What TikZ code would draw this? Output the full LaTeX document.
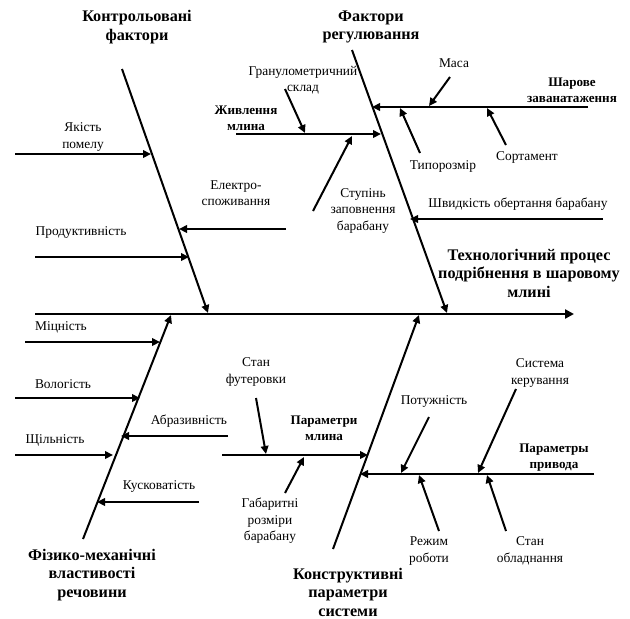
\documentclass[tikz,border=0pt]{standalone}
\usepackage{fontspec}
\setmainfont{Liberation Serif}
\usetikzlibrary{arrows.meta}

\begin{document}
\begin{tikzpicture}[x=1pt,y=-1pt,
  arr/.style={line width=2pt,-{Triangle[length=8pt,width=7.5pt]}},
  spine/.style={line width=2.8pt,-{Triangle[length=9pt,width=9pt]}},
  lbl/.style={align=center,inner sep=0pt,font=\fontsize{13.4}{16.5}\selectfont},
  sub/.style={align=center,inner sep=0pt,font=\fontsize{13.1}{16}\selectfont\bfseries},
  head/.style={align=center,inner sep=0pt,font=\fontsize{16.2}{18.5}\selectfont\bfseries}]
  \useasboundingbox (0,0) rectangle (630,619);

  \node[head] (kontr) at (137,27) {Контрольовані\\фактори};
  \node[head] (regul) at (371,27) {Фактори\\регулювання};
  \node[head] (proc) at (529,273) {Технологічний процес\\подрібнення в шаровому\\млині};
  \node[head] (fizmeh) at (92,575) {Фізико-механічні\\властивості\\речовини};
  \node[head] (konstr) at (348,592) {Конструктивні\\параметри\\системи};

  \node[sub] (zhyvl) at (246,118) {Живлення\\млина};
  \node[sub] (sharove) at (572,90) {Шарове\\заванатаження};
  \node[sub] (parmlyn) at (324,428) {Параметри\\млина};
  \node[sub] (parpryv) at (554,458) {Параметры\\привода};

  \node[lbl] (yakist) at (83,137) {Якість\\помелу};
  \node[lbl] (elektro) at (236,193) {Електро-\\споживання};
  \node[lbl] (produkt) at (81,233) {Продуктивність};
  \node[lbl] (granul) at (303,80) {Гранулометричний\\склад};
  \node[lbl] (stupin) at (363,211) {Ступінь\\заповнення\\барабану};
  \node[lbl] (masa) at (454,63) {Маса};
  \node[lbl] (typoroz) at (443,166) {Типорозмір};
  \node[lbl] (sortam) at (527,157) {Сортамент};
  \node[lbl] (shvyd) at (518,204) {Швидкість обертання барабану};
  \node[lbl] (mitsn) at (61,327) {Міцність};
  \node[lbl] (volog) at (63,384) {Вологість};
  \node[lbl] (abraz) at (189,421) {Абразивність};
  \node[lbl] (shchil) at (55,440) {Щільність};
  \node[lbl] (kuskov) at (159,487) {Кусковатість};
  \node[lbl] (futer) at (256,372) {Стан\\футеровки};
  \node[lbl] (gabar) at (270,521) {Габаритні\\розміри\\барабану};
  \node[lbl] (potuzh) at (434,402) {Потужність};
  \node[lbl] (systema) at (540,373) {Система\\керування};
  \node[lbl] (rezhym) at (429,551) {Режим\\роботи};
  \node[lbl] (stanobl) at (530,551) {Стан\\обладнання};

  \coordinate (s1) at (35,314);
  \coordinate (s2) at (574,314);
  \coordinate (kf1) at (122,69);
  \coordinate (kf2) at (208,313);
  \coordinate (fr1) at (352,50);
  \coordinate (fr2) at (447,313);
  \coordinate (fm1) at (83,539);
  \coordinate (fm2) at (171,315);
  \coordinate (kp1) at (333,549);
  \coordinate (kp2) at (419,315);

  \coordinate (yak1) at (15,154);
  \coordinate (yak2) at (151,154);
  \coordinate (el1) at (286,229);
  \coordinate (el2) at (179,229);
  \coordinate (pr1) at (35,257);
  \coordinate (pr2) at (189,257);

  \coordinate (zh1) at (236,134);
  \coordinate (zh2) at (381,134);
  \coordinate (gr1) at (285,89);
  \coordinate (gr2) at (305,133);
  \coordinate (st1) at (313,211);
  \coordinate (st2) at (352,136);
  \coordinate (sh1) at (588,107);
  \coordinate (sh2) at (372,107);
  \coordinate (ma1) at (450,77);
  \coordinate (ma2) at (429,106);
  \coordinate (ty1) at (420,153);
  \coordinate (ty2) at (400,108);
  \coordinate (so1) at (506,145);
  \coordinate (so2) at (487,108);
  \coordinate (sv1) at (603,219);
  \coordinate (sv2) at (410,219);

  \coordinate (mi1) at (25,342);
  \coordinate (mi2) at (160,342);
  \coordinate (vo1) at (15,398);
  \coordinate (vo2) at (140,398);
  \coordinate (ab1) at (228,436);
  \coordinate (ab2) at (121,436);
  \coordinate (sc1) at (15,455);
  \coordinate (sc2) at (113,455);
  \coordinate (ku1) at (199,502);
  \coordinate (ku2) at (97,502);

  \coordinate (pm1) at (222,455);
  \coordinate (pm2) at (368,455);
  \coordinate (fu1) at (256,398);
  \coordinate (fu2) at (266,454);
  \coordinate (ga1) at (285,493);
  \coordinate (ga2) at (304,457);
  \coordinate (pp1) at (594,474);
  \coordinate (pp2) at (360,474);
  \coordinate (po1) at (429,417);
  \coordinate (po2) at (401,473);
  \coordinate (sy1) at (516,389);
  \coordinate (sy2) at (478,473);
  \coordinate (re1) at (439,531);
  \coordinate (re2) at (419,475);
  \coordinate (so3) at (506,531);
  \coordinate (so4) at (487,475);

  \draw[spine] (s1) -- (s2);
  \draw[arr] (kf1) -- (kf2);
  \draw[arr] (fr1) -- (fr2);
  \draw[arr] (fm1) -- (fm2);
  \draw[arr] (kp1) -- (kp2);

  \draw[arr] (yak1) -- (yak2);
  \draw[arr] (el1) -- (el2);
  \draw[arr] (pr1) -- (pr2);

  \draw[arr] (zh1) -- (zh2);
  \draw[arr] (gr1) -- (gr2);
  \draw[arr] (st1) -- (st2);
  \draw[arr] (sh1) -- (sh2);
  \draw[arr] (ma1) -- (ma2);
  \draw[arr] (ty1) -- (ty2);
  \draw[arr] (so1) -- (so2);
  \draw[arr] (sv1) -- (sv2);

  \draw[arr] (mi1) -- (mi2);
  \draw[arr] (vo1) -- (vo2);
  \draw[arr] (ab1) -- (ab2);
  \draw[arr] (sc1) -- (sc2);
  \draw[arr] (ku1) -- (ku2);

  \draw[arr] (pm1) -- (pm2);
  \draw[arr] (fu1) -- (fu2);
  \draw[arr] (ga1) -- (ga2);
  \draw[arr] (pp1) -- (pp2);
  \draw[arr] (po1) -- (po2);
  \draw[arr] (sy1) -- (sy2);
  \draw[arr] (re1) -- (re2);
  \draw[arr] (so3) -- (so4);
\end{tikzpicture}
\end{document}
